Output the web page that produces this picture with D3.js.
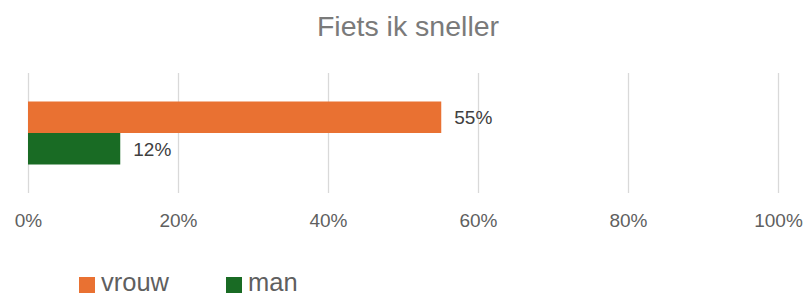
<!DOCTYPE html>
<html><head><meta charset="utf-8">
<script src="https://cdn.jsdelivr.net/npm/d3@7"></script>
<style>body{margin:0;background:#fff}svg{display:block}text{font-family:"Liberation Sans",Arial,sans-serif}</style>
</head><body><svg id="c" width="807" height="297"></svg>
<script>
const title = "Fiets ik sneller";
const categories = ["Fiets ik sneller"];
const seriesNames = ["vrouw", "man"];
const vrouwValues = [0.551];
const manValues = [0.123];
const tickValues = [0, 0.2, 0.4, 0.6, 0.8, 1.0];
const colors = ["#E97132", "#196B24"];

const svg = d3.select("#c");
const x = d3.scaleLinear().domain([0, 1]).range([28, 778]);
const yCat = d3.scaleBand().domain(categories).range([73, 193]).paddingInner(0).paddingOuter(0);
const ySer = d3.scaleBand().domain(seriesNames).range([0, 63]);
const catOffset = (yCat.bandwidth() - ySer.range()[1]) / 2;

svg.append("text").attr("x", 408).attr("y", 36).attr("text-anchor", "middle")
  .attr("font-size", 28.5).attr("fill", "#7a7a7a").text(title);

// gridlines
const axis = d3.axisBottom(x).tickValues(tickValues).tickSize(-120).tickFormat(d3.format(".0%"));
const g = svg.append("g").attr("transform", "translate(0,193)").call(axis);
g.select(".domain").remove();
g.selectAll(".tick line").attr("stroke", "#d9d9d9").attr("stroke-width", 1.3);
g.selectAll(".tick text").attr("font-size", 19).attr("fill", "#5f5f5f").attr("y", 34).attr("dy", 0)
  .attr("font-family", "Liberation Sans, Arial, sans-serif");

const seriesData = [vrouwValues, manValues];
categories.forEach((cat, ci) => {
  seriesNames.forEach((s, si) => {
    const v = seriesData[si][ci];
    const y0 = yCat(cat) + catOffset + ySer(s);
    svg.append("rect").attr("x", x(0)).attr("y", y0).attr("width", x(v) - x(0))
      .attr("height", ySer.bandwidth()).attr("fill", colors[si]);
    svg.append("text").attr("x", x(v) + 13).attr("y", y0 + ySer.bandwidth() / 2 + 7)
      .attr("font-size", 19).attr("fill", "#404040").text(d3.format(".0%")(v));
  });
});

// legend
const legendX = [79, 226];
seriesNames.forEach((s, si) => {
  svg.append("rect").attr("x", legendX[si]).attr("y", 277).attr("width", 16).attr("height", 16).attr("fill", colors[si]);
  svg.append("text").attr("x", legendX[si] + 22).attr("y", 291).attr("font-size", 25.5)
    .attr("fill", "#5f5f5f").text(s);
});
</script></body></html>
